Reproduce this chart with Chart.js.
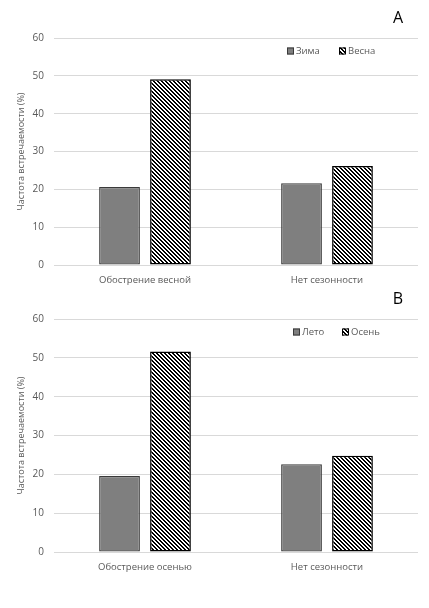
<!DOCTYPE html>
<html>
<head>
<meta charset="utf-8">
<script src="https://cdn.jsdelivr.net/npm/chart.js@4.4.1/dist/chart.umd.min.js"></script>
<style>
  html, body { margin: 0; padding: 0; background: #fff; }
  .panel { position: absolute; left: 0; width: 429px; }
</style>
</head>
<body>
<div class="panel" style="top:0;height:300px"><canvas id="chartA" width="429" height="300"></canvas></div>
<div class="panel" style="top:285px;height:323px"><canvas id="chartB" width="429" height="323"></canvas></div>
<script>
// данные
const categoriesA = ['Обострение весной', 'Нет сезонности'];
const winterA = [20.6, 21.6];
const springA = [49.1, 26.2];

const categoriesB = ['Обострение осенью', 'Нет сезонности'];
const summerB = [19.6, 22.6];
const autumnB = [51.6, 24.8];

const yMin = 0;
const yMax = 60;
const yStep = 10;

Chart.defaults.font.family = '"Open Sans", "Noto Sans", sans-serif';
Chart.defaults.color = '#595959';

// штриховка "\\\"
function makeHatch() {
    const tile = document.createElement('canvas');
    tile.width = 4;
    tile.height = 4;
    const c = tile.getContext('2d');
    c.fillStyle = '#fff';
    c.fillRect(0, 0, 4, 4);
    c.fillStyle = '#000';
    for (let x = 0; x < 4; x++) {
        for (let y = 0; y < 4; y++) {
            const d = ((x - y) % 4 + 4) % 4;
            if (d === 0 || d === 1) c.fillRect(x, y, 1, 1);
        }
    }
    return c.createPattern(tile, 'repeat');
}

// легенда внутри области построения и буква панели
const panelLegend = {
    id: 'panelLegend',
    afterDraw(chart, args, opts) {
        const ctx = chart.ctx;
        ctx.save();
        ctx.font = '9.5px "Open Sans"';
        ctx.textBaseline = 'middle';
        ctx.textAlign = 'left';
        chart.data.datasets.forEach(function(ds, i) {
            const x = opts.x[i];
            const y = opts.y;
            ctx.fillStyle = ds.backgroundColor;
            ctx.fillRect(x, y - 3.5, 7, 7);
            ctx.strokeStyle = ds.borderColor;
            ctx.lineWidth = 1;
            ctx.strokeRect(x + 0.5, y - 3, 6, 6);
            ctx.fillStyle = '#595959';
            ctx.fillText(ds.label, x + 9, y);
        });
        ctx.font = '16px "Open Sans"';
        ctx.fillStyle = '#000';
        ctx.textAlign = 'center';
        ctx.fillText(opts.letter, opts.letterX, opts.letterY);
        ctx.restore();
    }
};

function makeChart(id, labels, solid, hatched, names, topPad, xHeight, legendOpts) {
    const ctx = document.getElementById(id).getContext('2d');
    return new Chart(ctx, {
        type: 'bar',
        data: {
            labels: labels,
            datasets: [{
                label: names[0],
                data: solid,
                backgroundColor: '#7f7f7f',
                borderColor: '#3a3a3a',
                borderWidth: 1.3,
                borderSkipped: false
            }, {
                label: names[1],
                data: hatched,
                backgroundColor: makeHatch(),
                borderColor: '#000',
                borderWidth: 1.5,
                borderSkipped: false
            }]
        },
        options: {
            responsive: false,
            animation: false,
            layout: { padding: { top: topPad, right: 11, left: 0, bottom: 0 } },
            datasets: { bar: { categoryPercentage: 0.56, barPercentage: 0.8 } },
            plugins: {
                legend: { display: false },
                tooltip: { enabled: false },
                panelLegend: legendOpts
            },
            scales: {
                x: {
                    grid: { display: false },
                    border: { display: false },
                    ticks: { font: { size: 9.5 }, padding: 2, color: '#595959' },
                    afterFit: function(scale) { scale.height = xHeight; }
                },
                y: {
                    min: yMin,
                    max: yMax,
                    ticks: { stepSize: yStep, font: { size: 10 }, padding: 10, color: '#595959' },
                    grid: { color: '#d9d9d9', drawTicks: false },
                    border: { display: false },
                    title: {
                        display: true,
                        text: 'Частота встречаемости (%)',
                        font: { size: 9 },
                        color: '#595959',
                        padding: { top: 16, bottom: 0 }
                    },
                    afterFit: function(scale) { scale.width = 54; }
                }
            }
        },
        plugins: [panelLegend]
    });
}

makeChart('chartA', categoriesA, winterA, springA, ['Зима', 'Весна'], 38, 35,
    { x: [287, 339], y: 51, letter: 'A', letterX: 398, letterY: 18 });
makeChart('chartB', categoriesB, summerB, autumnB, ['Лето', 'Осень'], 34, 56,
    { x: [293, 342], y: 47, letter: 'B', letterX: 398, letterY: 14 });
</script>
</body>
</html>
